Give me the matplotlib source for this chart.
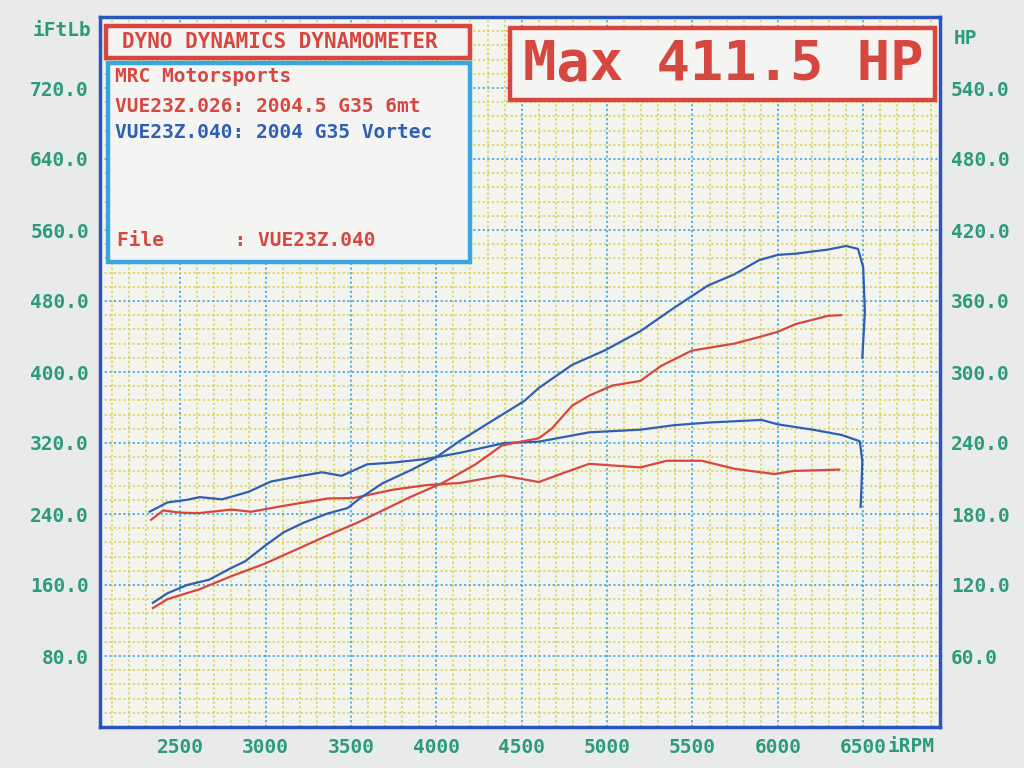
import matplotlib
matplotlib.use("Agg")
import matplotlib.pyplot as plt
from matplotlib.patches import Rectangle
from matplotlib.ticker import MultipleLocator, FixedLocator

# ---------------- data ----------------
red_tq_rpm = [2330, 2400, 2500, 2610, 2800, 2915, 3085, 3365, 3515, 3750, 3940, 4140,
              4385, 4600, 4720, 4895, 5195, 5350, 5555, 5745, 5980, 6090, 6360]
red_tq = [233.5, 244, 241.5, 241, 245, 242.5, 248.5, 257.5, 258, 267.5, 272.5, 275,
          283.5, 276, 284.5, 296.5, 292.5, 300, 300, 291, 285, 288.5, 290]

red_hp_rpm = [2340, 2425, 2615, 2800, 2995, 3180, 3365, 3535, 3650, 3850, 4040, 4230,
              4385, 4600, 4675, 4795, 4895, 5030, 5195, 5315, 5495, 5745, 5890, 6000,
              6105, 6295, 6370]
red_hp = [100.5, 108, 116.5, 127.5, 138, 150, 162, 172.5, 180.5, 194.5, 206.5, 222,
          238, 244, 252, 271.5, 280, 288.5, 292.5, 305, 318, 324, 329.5, 334,
          340.5, 347.5, 348]

blue_tq_rpm = [2320, 2425, 2540, 2615, 2745, 2900, 3030, 3180, 3330, 3445, 3595, 3750,
               3940, 4140, 4400, 4600, 4895, 5195, 5390, 5590, 5905, 6000, 6205, 6375,
               6480, 6495, 6490, 6485]
blue_tq = [242.5, 253, 256, 259, 256.5, 265, 276.5, 282, 287, 283, 296, 298,
           302, 309, 320, 321.5, 332, 335, 340, 343, 346, 341, 335, 329,
           322, 300, 270, 248]

blue_hp_rpm = [2340, 2425, 2540, 2670, 2800, 2880, 2995, 3105, 3220, 3365, 3480, 3555,
               3685, 3850, 4000, 4140, 4330, 4515, 4600, 4795, 4990, 5195, 5390, 5590,
               5745, 5890, 6000, 6105, 6295, 6400, 6470, 6500, 6510, 6495]
blue_hp = [105, 113, 120, 124.5, 134.5, 140, 153, 164.5, 172.5, 180.5, 185, 193.5,
           206, 217, 228, 242, 259, 275.5, 286.5, 306, 318.5, 334.5, 354, 373,
           382.5, 394.5, 399, 400, 403.5, 406.5, 404, 388.5, 351, 312]

x_ticks = [2500, 3000, 3500, 4000, 4500, 5000, 5500, 6000, 6500]
tq_ticks = [80, 160, 240, 320, 400, 480, 560, 640, 720]
hp_ticks = [60, 120, 180, 240, 300, 360, 420, 480, 540]

title_text = "DYNO DYNAMICS DYNAMOMETER"
shop_text = "MRC Motorsports"
run1_text = "VUE23Z.026: 2004.5 G35 6mt"
run2_text = "VUE23Z.040: 2004 G35 Vortec"
file_text = "File      : VUE23Z.040"
max_text = "Max 411.5 HP"

# ---------------- style ----------------
RED = "#d6473f"
BLUE = "#2f5fb3"
LBLUE = "#3aa6df"
GREEN = "#2c9a7c"
FRAME = "#2a55bf"
FONT = "DejaVu Sans Mono"

W, H = 1024, 768
fig = plt.figure(figsize=(W / 100, H / 100), dpi=100, facecolor="#e9ebea")

def fx(x):
    return x / W

def fy(y):
    return 1 - y / H

ax = fig.add_axes([fx(100), fy(727), fx(940) - fx(100), fy(17) - fy(727)])
ax.set_facecolor("#f4f4ee")
ax.set_xlim(2030, 6950)
ax.set_ylim(0, 800)
ax.xaxis.set_major_locator(FixedLocator(x_ticks))
ax.xaxis.set_minor_locator(MultipleLocator(100))
ax.yaxis.set_major_locator(FixedLocator(tq_ticks))
ax.yaxis.set_minor_locator(MultipleLocator(16))
ax.set_axisbelow(True)
ax.grid(which="minor", color="#dcd25a", lw=1.2, ls=(0, (1.3, 1.5)))
ax.grid(which="major", color="#3ea4e0", lw=1.2, ls=(0, (1.3, 1.5)))
ax.set_xticklabels([str(v) for v in x_ticks])
ax.set_yticklabels([f"{v:.1f}" for v in tq_ticks])
ax.tick_params(which="both", length=0)
ax.tick_params(axis="x", pad=8, labelcolor=GREEN, labelsize=14)
ax.tick_params(axis="y", pad=8, labelcolor=GREEN, labelsize=14)
for lab in ax.get_xticklabels() + ax.get_yticklabels():
    lab.set_fontfamily(FONT)
    lab.set_fontweight("bold")
for s in ax.spines.values():
    s.set_color(FRAME)
    s.set_linewidth(2.5)

ax2 = ax.twinx()
ax2.set_ylim(0, 600)
ax2.yaxis.set_major_locator(FixedLocator(hp_ticks))
ax2.set_yticklabels([f"{v:.1f}" for v in hp_ticks])
ax2.tick_params(length=0, pad=8, labelcolor=GREEN, labelsize=14)
for lab in ax2.get_yticklabels():
    lab.set_fontfamily(FONT)
    lab.set_fontweight("bold")
for s in ax2.spines.values():
    s.set_visible(False)

ax.plot(red_tq_rpm, red_tq, color=RED, lw=1.6, zorder=3)
ax.plot(blue_tq_rpm, blue_tq, color=BLUE, lw=1.6, zorder=3)
ax2.plot(red_hp_rpm, red_hp, color=RED, lw=1.6, zorder=3)
ax2.plot(blue_hp_rpm, blue_hp, color=BLUE, lw=1.6, zorder=3)

# axis unit labels
fig.text(fx(62), fy(31), "iFtLb", color=GREEN, fontsize=14, fontweight="bold",
         family=FONT, ha="center", va="center")
fig.text(fx(954), fy(38), "HP", color=GREEN, fontsize=14, fontweight="bold",
         family=FONT, ha="left", va="center")
fig.text(fx(888), fy(746), "iRPM", color=GREEN, fontsize=14, fontweight="bold",
         family=FONT, ha="left", va="center")

def box(x0, y0, x1, y1, ec):
    r = Rectangle((fx(x0), fy(y1)), fx(x1) - fx(x0), fy(y0) - fy(y1),
                  transform=fig.transFigure, facecolor="#f4f4f2", edgecolor=ec,
                  lw=3.2, zorder=10)
    fig.add_artist(r)

box(106, 26, 470, 58, RED)
fig.text(fx(122), fy(42), title_text, color=RED, fontsize=15, fontweight="bold",
         family=FONT, ha="left", va="center", zorder=11)

box(108, 63, 470, 262, LBLUE)
fig.text(fx(115), fy(77), shop_text, color=RED, fontsize=14, fontweight="bold",
         family=FONT, ha="left", va="center", zorder=11)
fig.text(fx(115), fy(107), run1_text, color=RED, fontsize=14, fontweight="bold",
         family=FONT, ha="left", va="center", zorder=11)
fig.text(fx(115), fy(133), run2_text, color=BLUE, fontsize=14, fontweight="bold",
         family=FONT, ha="left", va="center", zorder=11)
fig.text(fx(117), fy(241), file_text, color=RED, fontsize=14, fontweight="bold",
         family=FONT, ha="left", va="center", zorder=11)

box(510, 28, 935, 100, RED)
fig.text(fx(723), fy(64), max_text, color=RED, fontsize=40, fontweight="bold",
         family=FONT, ha="center", va="center", zorder=11)

fig.savefig("out.png", dpi=100, facecolor=fig.get_facecolor())
